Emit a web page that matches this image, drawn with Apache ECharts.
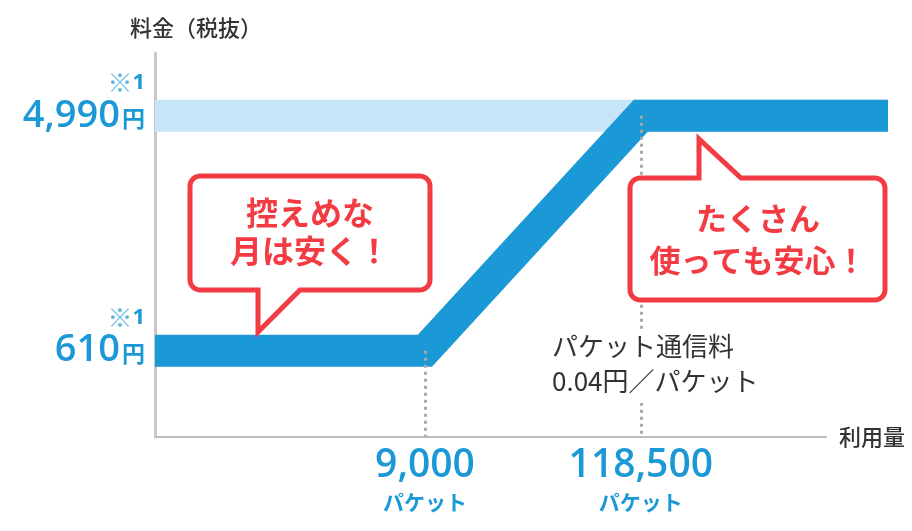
<!DOCTYPE html>
<html><head><meta charset="utf-8">
<script src="https://cdn.jsdelivr.net/npm/echarts@6/dist/echarts.min.js"></script>
<style>html,body{margin:0;padding:0;background:#fff}#c{width:912px;height:531px}</style>
</head><body><div id="c"></div>
<script>
// ---- data ----
const usageBreaks = [9000, 118500];          // packets
const priceLevels = [610, 4990];             // yen
const usageTickLabels = ['9,000', '118,500'];
const priceTickLabels = ['610', '4,990'];
const usageAxisRange = [358, 2269000];       // schematic log axis (line drawn edge to edge)
const usageAxisLineEnd = 1094900;            // where the drawn x axis line stops
const priceAxisRange = [-1000, 6160];
const lineUsage = [usageAxisRange[0], usageBreaks[0], usageBreaks[1], usageAxisRange[1]];
const linePrice = [priceLevels[0], priceLevels[0], priceLevels[1], priceLevels[1]];

const BLUE = '#1b98d6', RED = '#f23b43', GRAY = '#333333';
const JP = '"Noto Sans CJK JP", sans-serif';
const NUM = '"Open Sans", "Noto Sans", sans-serif';

// rounded-rectangle outline with a tail, as polygon points
function callout(L, T, R, B, r, tail, onTop) {
  const pts = [];
  const arc = (cx, cy, a0, a1) => {
    for (let k = 0; k <= 6; k++) {
      const a = a0 + (a1 - a0) * k / 6;
      pts.push([cx + r * Math.cos(a), cy + r * Math.sin(a)]);
    }
  };
  const P = Math.PI;
  arc(L + r, T + r, P, 1.5 * P);
  if (onTop) tail.forEach(p => pts.push(p));
  arc(R - r, T + r, 1.5 * P, 2 * P);
  arc(R - r, B - r, 0, 0.5 * P);
  if (!onTop) tail.forEach(p => pts.push(p));
  arc(L + r, B - r, 0.5 * P, P);
  return pts;
}

const chart = echarts.init(document.getElementById('c'), null, {renderer: 'canvas'});
chart.setOption({
  animation: false,
  backgroundColor: '#fff',
  grid: {left: 155, right: 24, top: 53, bottom: 94},
  xAxis: {
    type: 'log', min: usageAxisRange[0], max: usageAxisRange[1],
    axisLine: {show: false},
    axisTick: {show: false},
    splitLine: {show: false},
    axisLabel: {
      customValues: usageBreaks, margin: 9,
      formatter: v => {
        const i = usageBreaks.findIndex(u => Math.abs(u - v) / u < 1e-6);
        return i < 0 ? '' : `{n|${usageTickLabels[i]}}\n{u|パケット}`;
      },
      rich: {
        n: {fontSize: 39, fontWeight: 600, fontFamily: NUM, color: BLUE, lineHeight: 40, align: 'center'},
        u: {fontSize: 21, fontWeight: 'bold', fontFamily: JP, color: BLUE, lineHeight: 32, align: 'center'}
      }
    }
  },
  yAxis: {
    type: 'value', min: priceAxisRange[0], max: priceAxisRange[1],
    name: '料金（税抜）', nameLocation: 'end', nameGap: 14,
    nameTextStyle: {color: GRAY, fontSize: 22, fontWeight: 500, fontFamily: JP, align: 'center', padding: [0, 0, 0, 82]},
    axisLine: {show: true, onZero: false, lineStyle: {color: '#c8c8c8', width: 3}},
    axisTick: {show: false},
    splitLine: {show: false},
    axisLabel: {
      customValues: priceLevels, margin: 10, padding: [0, 0, 26, 0],
      formatter: v => {
        const i = priceLevels.indexOf(v);
        return i < 0 ? '' : `{s|※}{t|1}\n{n|${priceTickLabels[i]}}{u|円}`;
      },
      rich: {
        s: {fontSize: 25, fontFamily: JP, color: '#5fb6e6', lineHeight: 26},
        t: {fontSize: 22, fontWeight: 'bold', fontFamily: NUM, color: BLUE, lineHeight: 26},
        n: {fontSize: 38, fontWeight: 600, fontFamily: NUM, color: BLUE, lineHeight: 40},
        u: {fontSize: 23, fontWeight: 'bold', fontFamily: JP, color: BLUE, lineHeight: 40, padding: [6, 0, 0, 2]}
      }
    }
  },
  series: [
    {
      type: 'line', data: [], silent: true, z: 1,
      markLine: {
        symbol: 'none', silent: true,
        data: [
          ...usageBreaks.map((u, i) => [
            {coord: [u, priceLevels[i]], label: {show: false},
             lineStyle: {color: '#a8a8a8', width: 3, type: [3, 4]}},
            {coord: [u, priceAxisRange[0]]}
          ]),
          [
            {coord: [usageAxisRange[0], priceAxisRange[0]],
             lineStyle: {color: '#bdbdbd', width: 2, type: 'solid'},
             label: {show: true, position: 'end', formatter: '利用量', distance: 12,
                     color: GRAY, fontSize: 22, fontWeight: 500, fontFamily: JP}},
            {coord: [usageAxisLineEnd, priceAxisRange[0]]}
          ]
        ]
      }
    },
    {
      type: 'line', z: 2, symbol: 'none', silent: true,
      data: [usageAxisRange[0], usageAxisRange[1]].map(u => [u, priceLevels[1]]),
      lineStyle: {color: '#c6e6f8', width: 32, cap: 'butt'}
    },
    {
      type: 'line', z: 3, symbol: 'none', silent: true, clip: false,
      data: lineUsage.map((u, i) => [u, linePrice[i]]),
      lineStyle: {color: BLUE, width: 32, cap: 'butt', join: 'miter'}
    }
  ],
  graphic: [
    {
      type: 'polygon', z: 10,
      shape: {points: callout(190, 176, 430, 290, 10, [[300, 290], [258, 332], [258, 290]], false)},
      style: {fill: '#fff', stroke: RED, lineWidth: 5, lineJoin: 'miter'}
    },
    {
      type: 'text', z: 11,
      style: {text: '控えめな\n月は安く！', x: 310, y: 232, align: 'center', verticalAlign: 'middle',
              fontSize: 32, fontWeight: 'bold', fontFamily: JP, fill: RED, lineHeight: 38}
    },
    {
      type: 'polygon', z: 10,
      shape: {points: callout(630, 178, 885, 300, 10, [[699, 178], [699, 139], [741, 178]], true)},
      style: {fill: '#fff', stroke: RED, lineWidth: 5, lineJoin: 'miter'}
    },
    {
      type: 'text', z: 11,
      style: {text: 'たくさん\n使っても安心！', x: 758, y: 239, align: 'center', verticalAlign: 'middle',
              fontSize: 31, fontWeight: 'bold', fontFamily: JP, fill: RED, lineHeight: 42}
    },
    {
      type: 'text', z: 11,
      style: {text: 'パケット通信料\n0.04円／パケット', x: 550, y: 329, align: 'left', verticalAlign: 'top',
              fontSize: 26, fontFamily: JP, fill: GRAY, lineHeight: 35,
              backgroundColor: '#fff', padding: [0, 4, 4, 2]}
    }
  ]
});
</script></body></html>
